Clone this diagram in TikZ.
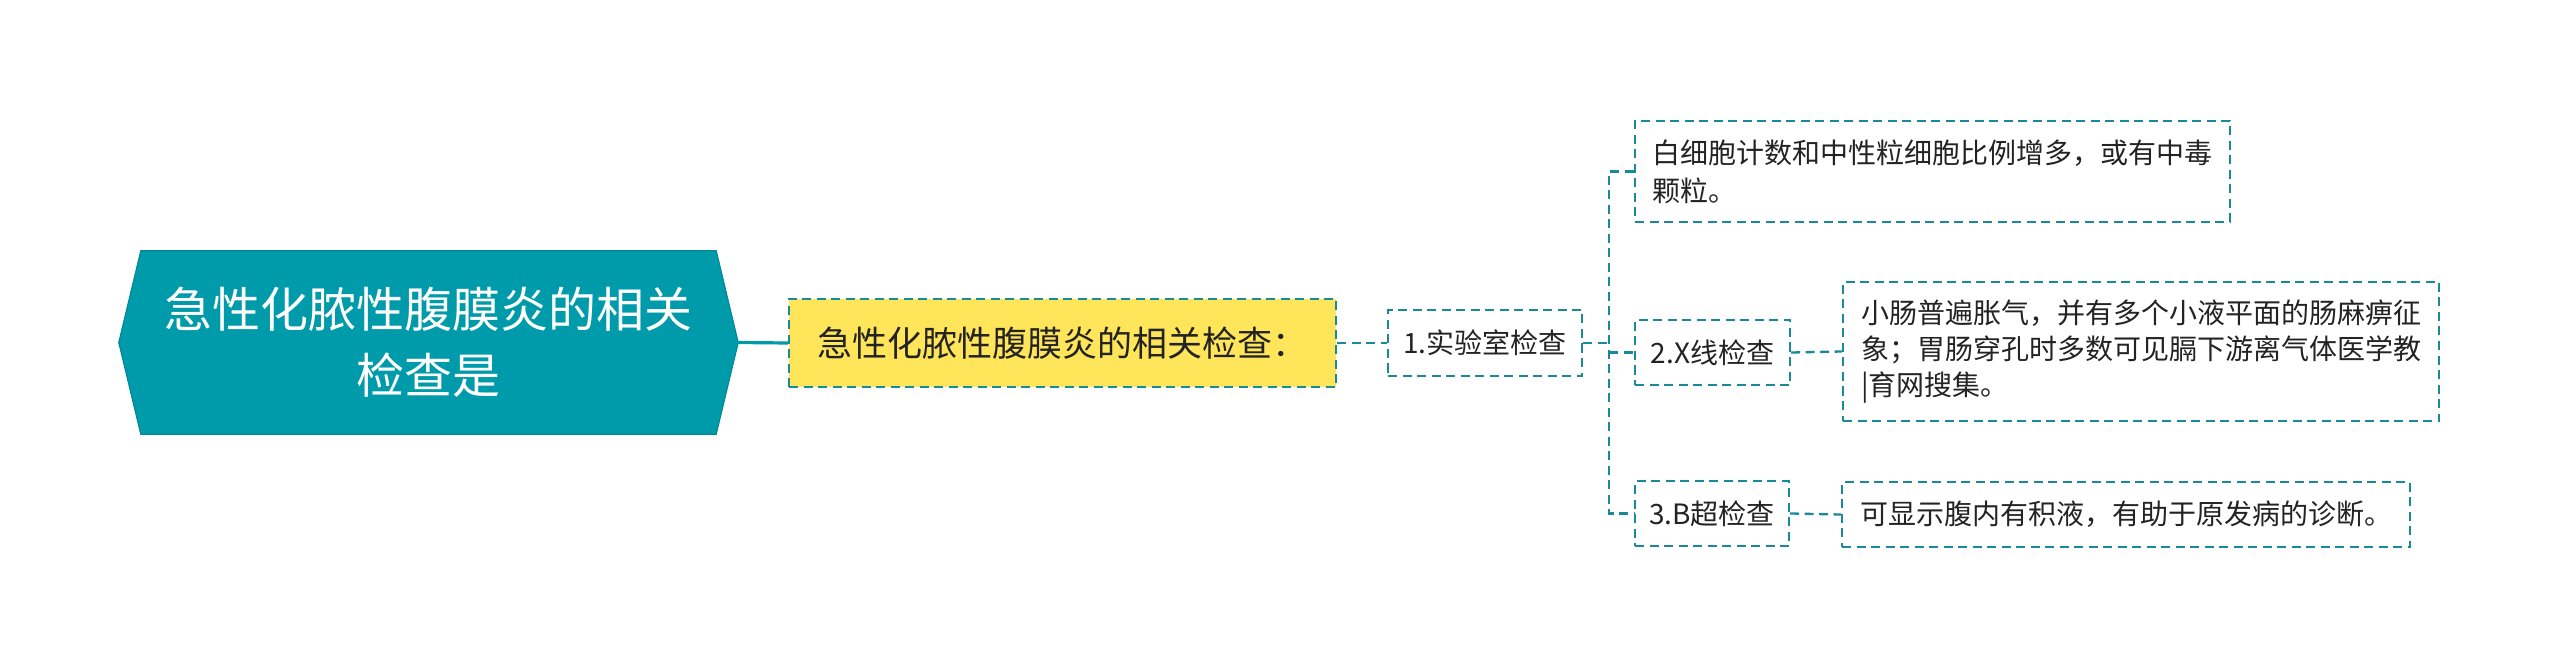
\documentclass[tikz,border=0pt]{standalone}
\usepackage{fontspec}
\setmainfont{Noto Sans CJK SC}
\usetikzlibrary{backgrounds}
\definecolor{rootfill}{RGB}{0,155,170}
\definecolor{rootedge}{RGB}{0,138,152}
\definecolor{lineteal}{RGB}{24,138,152}
\definecolor{yellowfill}{RGB}{255,229,90}
\definecolor{txt}{RGB}{35,35,35}
\begin{document}
\begin{tikzpicture}[x=1pt,y=-1pt,
  dashline/.style={draw=lineteal, line width=2.3pt, dash pattern=on 9pt off 5.5pt},
  box/.style={dashline, rectangle, inner sep=0pt, text=txt, align=left,
    font=\fontsize{28}{36}\selectfont},
  rootnode/.style={rectangle, inner sep=0pt, text=white, align=center,
    font=\fontsize{48}{66}\selectfont},
  subnode/.style={box, fill=yellowfill, align=center, font=\fontsize{35}{42}\selectfont}
]
\useasboundingbox (0,0) rectangle (2560,668);

\node[rootnode, minimum width=619pt, minimum height=183pt] (root) at (428.5,342.5)
  {急性化脓性腹膜炎的相关\\检查是};
\begin{scope}[on background layer]
\filldraw[fill=rootfill, draw=rootedge, line width=1.2pt]
  (root.west) -- ([xshift=22pt]root.north west) -- ([xshift=-22pt]root.north east)
  -- (root.east) -- ([xshift=-22pt]root.south east) -- ([xshift=22pt]root.south west) -- cycle;
\end{scope}

\node[subnode, minimum width=547pt, minimum height=88pt] (yellow) at (1062.5,343)
  {急性化脓性腹膜炎的相关检查：};
\node[box, minimum width=194pt, minimum height=66pt] (lab) at (1485,343) {1.实验室检查};

\node[box, minimum width=595pt, minimum height=101pt, font=\fontsize{28}{38}\selectfont] (leaf1) at (1932.5,171.5)
  {白细胞计数和中性粒细胞比例增多，或有中毒\\颗粒。};
\node[box, minimum width=155pt, minimum height=65pt] (xray) at (1712.5,352.5) {2.X线检查};
\node[box, minimum width=596pt, minimum height=139pt] (leaf2) at (2141,351.5)
  {小肠普遍胀气，并有多个小液平面的肠麻痹征\\象；胃肠穿孔时多数可见膈下游离气体医学教\\|育网搜集。};
\node[box, minimum width=154pt, minimum height=65pt] (bus) at (1712,513.5) {3.B超检查};
\node[box, minimum width=568pt, minimum height=65pt] (leaf3) at (2126,514.5)
  {可显示腹内有积液，有助于原发病的诊断。};

\coordinate (tx) at (1609,0);
\draw[draw=rootfill, line width=3.2pt] (root.east) -- (yellow.west);
\draw[dashline] (yellow.east) -- (lab.west);
\draw[dashline] (lab.east) -- (lab.east -| tx);
\draw[dashline] (leaf1.west) -- (leaf1.west -| tx) -- (bus.west -| tx) -- (bus.west);
\draw[dashline] (xray.west -| tx) -- (xray.west);
\draw[dashline] (xray.east) -- (leaf2.west);
\draw[dashline] (bus.east) -- (leaf3.west);
\end{tikzpicture}
\end{document}
